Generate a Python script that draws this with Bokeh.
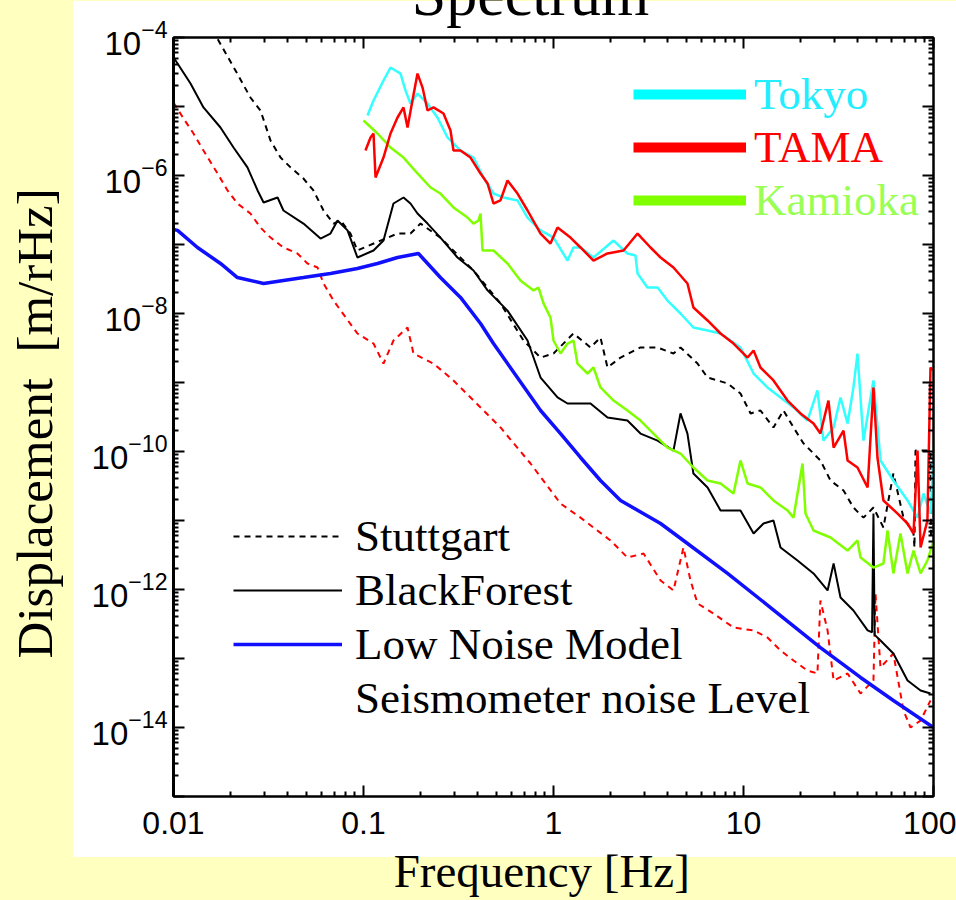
from bokeh.plotting import figure
from bokeh.models import FixedTicker, LogAxis, Legend, LegendItem, Label, LogTickFormatter
from bokeh.embed import file_html
from bokeh.resources import INLINE

# ---------------- data ----------------
x_tick_values = [0.01, 0.1, 1, 10, 100]
x_tick_labels = ["0.01", "0.1", "1", "10", "100"]
y_exponents = list(range(-15, -3))

stuttgart_f = [0.0160, 0.01725, 0.0212, 0.0254, 0.0287, 0.0324, 0.0366, 0.0413, 0.0483, 0.0545,
               0.0616, 0.0695, 0.0757, 0.0854, 0.0929, 0.1229, 0.151, 0.1767, 0.1995, 0.254,
               0.3793, 0.526, 0.695, 0.855, 1.0, 1.274, 1.566, 1.767, 1.924, 2.254,
               2.87, 3.53, 4.28, 4.66, 5.73, 6.47, 8.24, 9.64, 10.9, 12.28,
               14.38, 16.24, 18.33, 20.7, 25.4, 28.7, 33.6, 37.9, 42.8, 48.3,
               54.5, 61.5, 69.5, 78.5, 79.4, 80.4, 96.4, 97.0]
stuttgart_v = [1.3e-4, 9.05e-5, 3.32e-5, 1.35e-5, 8.75e-6, 3.22e-6, 1.82e-6, 1.31e-6, 9.05e-7, 6.07e-7,
               3.11e-7, 2.01e-7, 2.23e-7, 1.44e-7, 8.19e-8, 1.14e-7, 1.44e-7, 1.44e-7, 2.01e-7, 1.26e-7,
               4.20e-8, 1.40e-8, 4.06e-9, 2.30e-9, 2.63e-9, 5.13e-9, 3.22e-9, 4.49e-9, 1.65e-9, 2.30e-9,
               3.22e-9, 3.22e-9, 2.63e-9, 3.22e-9, 1.88e-9, 1.18e-9, 9.7e-10, 6.93e-10, 3.56e-10, 3.93e-10,
               2.23e-10, 3.93e-10, 2.23e-10, 1.31e-10, 7.41e-11, 3.80e-11, 2.72e-11, 1.54e-11, 1.10e-11, 1.54e-11,
               7.92e-12, 4.80e-11, 1.10e-11, 6.48e-12, 4.06e-12, 1.03e-10, 1.03e-10, 5.13e-12]

blackforest_f = [0.01, 0.0105, 0.01229, 0.01438, 0.01767, 0.0207, 0.0245, 0.0277, 0.0298, 0.0353,
                 0.0379, 0.0483, 0.0594, 0.067, 0.073, 0.0824, 0.0929, 0.1129, 0.1274, 0.1438,
                 0.1624, 0.1767, 0.1924, 0.2173, 0.254, 0.3124, 0.3793, 0.4498, 0.5727, 0.730,
                 0.855, 1.05, 1.185, 1.566, 1.924, 2.45, 2.87, 3.53, 4.28, 4.66,
                 5.07, 5.45, 6.47, 7.57, 9.64, 11.3, 12.74, 14.38, 15.66, 19.24,
                 23.36, 27.7, 29.8, 32.4, 37.9, 45.0, 47.5, 48.3, 49.0, 52.6,
                 61.5, 73.0, 85.5, 96.4]
blackforest_v = [5.13e-5, 4.2e-5, 2.16e-5, 9.7e-6, 4.96e-6, 2.55e-6, 1.31e-6, 6.07e-7, 4.06e-7, 4.80e-7,
                 3.11e-7, 2.01e-7, 1.22e-7, 1.44e-7, 2.23e-7, 1.60e-7, 6.48e-8, 8.19e-8, 1.14e-7, 3.93e-7,
                 4.80e-7, 3.93e-7, 2.81e-7, 2.01e-7, 1.26e-7, 6.48e-8, 4.20e-8, 2.16e-8, 1.10e-8, 4.06e-9,
                 1.18e-9, 6.07e-10, 4.96e-10, 4.96e-10, 3.11e-10, 2.81e-10, 1.82e-10, 1.44e-10, 1.03e-10, 3.56e-10,
                 1.82e-10, 4.80e-11, 3.01e-11, 1.40e-11, 1.40e-11, 6.48e-12, 9.05e-12, 1.0e-11, 4.06e-12, 2.63e-12,
                 1.71e-12, 9.7e-13, 2.38e-12, 7.66e-13, 4.96e-13, 2.55e-13, 2.4e-13, 1.26e-11, 2.2e-13, 1.82e-13,
                 1.18e-13, 4.80e-14, 3.44e-14, 3.11e-14]

lownoise_f = [0.01, 0.0105, 0.01337, 0.01767, 0.0217, 0.0298, 0.0379, 0.0483, 0.067, 0.0929,
              0.1185, 0.151, 0.1946, 0.254, 0.324, 0.413, 0.4831, 0.855, 1.089, 1.387,
              1.767, 2.254, 3.66, 4.83, 8.24, 13.87, 25.4, 41.3, 61.5, 100]
lownoise_v = [1.65e-7, 1.60e-7, 9.05e-8, 5.31e-8, 3.32e-8, 2.72e-8, 3.01e-8, 3.32e-8, 3.80e-8, 4.49e-8,
              5.31e-8, 6.48e-8, 7.41e-8, 3.32e-8, 1.71e-8, 7.16e-9, 3.67e-9, 3.93e-10, 1.82e-10, 8.19e-11,
              3.80e-11, 1.95e-11, 9.05e-12, 5.13e-12, 1.71e-12, 5.48e-13, 1.44e-13, 5.31e-14, 2.46e-14, 1.0e-14]

seismometer_f = [0.01, 0.01129, 0.01274, 0.01438, 0.01705, 0.01924, 0.0217, 0.0254, 0.0287, 0.0324,
                 0.0379, 0.0449, 0.0507, 0.0573, 0.0616, 0.0695, 0.0929, 0.1129, 0.1274, 0.1438,
                 0.1705, 0.1833, 0.2336, 0.2976, 0.413, 0.526, 0.757, 1.089, 1.387, 1.995,
                 2.45, 2.98, 3.66, 4.28, 4.83, 5.26, 5.73, 6.95, 8.86, 11.3,
                 13.37, 15.66, 18.33, 21.7, 24.5, 25.4, 27.7, 29.8, 35.3, 41.3,
                 48.3, 49.5, 52.6, 61.5, 69.5, 75.7, 85.5, 96.4]
seismometer_v = [1.14e-5, 6.7e-6, 4.06e-6, 2.30e-6, 1.07e-6, 6.07e-7, 3.93e-7, 2.81e-7, 1.76e-7, 1.26e-7,
                 9.05e-8, 7.41e-8, 5.31e-8, 4.64e-8, 2.72e-8, 1.54e-8, 5.13e-9, 3.67e-9, 1.88e-9, 4.06e-9,
                 6.27e-9, 2.63e-9, 1.88e-9, 1.07e-9, 4.35e-10, 2.23e-10, 6.70e-11, 1.76e-11, 1.10e-11, 5.13e-12,
                 2.91e-12, 3.32e-12, 1.35e-12, 9.7e-13, 4.06e-12, 1.35e-12, 6.27e-13, 4.49e-13, 2.81e-13, 2.55e-13,
                 2.01e-13, 1.31e-13, 9.35e-14, 6.70e-14, 6.07e-14, 6.93e-13, 2.55e-13, 4.80e-14, 6.07e-14, 3.11e-14,
                 4.80e-14, 8.75e-13, 7.41e-14, 1.18e-13, 1.76e-14, 1.0e-14, 1.26e-14, 2.46e-14]

tokyo_f = [0.105, 0.1129, 0.1274, 0.1387, 0.1566, 0.1663, 0.1767, 0.1924, 0.2173, 0.245,
           0.2768, 0.324, 0.3793, 0.4283, 0.4831, 0.5454, 0.6465, 0.730, 0.855, 1.0,
           1.185, 1.274, 1.387, 1.624, 2.07, 2.45, 2.70, 2.77, 3.12, 3.53,
           3.98, 4.66, 5.45, 6.47, 7.57, 9.64, 11.3, 13.37, 15.66, 18.33,
           21.7, 24.5, 26.36, 29.8, 32.4, 35.3, 37.9, 39.8, 42.8, 48.3,
           52.6, 61.5, 73.0, 82.4, 88.6, 96.4, 100]
tokyo_v = [7.41e-6, 1.22e-5, 2.38e-5, 3.67e-5, 3.0e-5, 1.71e-5, 1.10e-5, 1.54e-5, 1.10e-5, 6.93e-6,
           3.56e-6, 2.30e-6, 1.82e-6, 9.35e-7, 5.48e-7, 4.80e-7, 4.35e-7, 2.46e-7, 1.60e-7, 1.26e-7,
           5.86e-8, 9.05e-8, 9.05e-8, 6.48e-8, 1.14e-7, 7.41e-8, 6.93e-8, 3.80e-8, 2.38e-8, 2.38e-8,
           1.54e-8, 1.0e-8, 6.27e-9, 5.67e-9, 5.13e-9, 3.22e-9, 1.35e-9, 8.47e-10, 6.07e-10, 4.35e-10,
           2.81e-10, 7.66e-10, 1.44e-10, 2.23e-10, 6.07e-10, 2.55e-10, 8.47e-10, 2.63e-9, 1.44e-10, 1.07e-9,
           7.41e-11, 3.80e-11, 1.95e-11, 1.10e-11, 2.46e-11, 1.26e-11, 7.41e-11]

tama_f = [0.1024, 0.1089, 0.1129, 0.1157, 0.1274, 0.1387, 0.151, 0.1624, 0.1705, 0.181,
          0.1924, 0.2045, 0.2173, 0.2336, 0.2636, 0.287, 0.2976, 0.324, 0.3656, 0.413,
          0.4498, 0.4831, 0.526, 0.5727, 0.6465, 0.730, 0.855, 0.964, 1.05, 1.228,
          1.387, 1.624, 1.924, 2.336, 2.77, 3.24, 3.66, 4.28, 5.07, 5.45,
          6.47, 7.57, 8.86, 10.5, 11.3, 12.28, 14.38, 17.05, 19.95, 23.36,
          25.4, 28.0, 29.8, 33.6, 35.3, 39.8, 45.0, 48.3, 50.7, 54.5,
          64.7, 73.0, 78.5, 82.4, 85.5, 92.9, 96.4, 99.0]
tama_v = [2.30e-6, 3.56e-6, 4.06e-6, 9.35e-7, 1.82e-6, 4.06e-6, 6.93e-6, 9.7e-6, 4.96e-6, 1.22e-5,
          3.0e-5, 1.88e-5, 8.75e-6, 9.7e-6, 7.92e-6, 4.49e-6, 2.30e-6, 2.30e-6, 1.82e-6, 1.07e-6,
          7.66e-7, 3.93e-7, 4.35e-7, 8.47e-7, 5.48e-7, 3.11e-7, 1.44e-7, 1.03e-7, 1.76e-7, 1.26e-7,
          9.05e-8, 5.86e-8, 7.41e-8, 8.19e-8, 1.44e-7, 9.05e-8, 6.48e-8, 4.64e-8, 2.72e-8, 1.22e-8,
          7.92e-9, 5.13e-9, 3.67e-9, 2.30e-9, 2.91e-9, 1.65e-9, 1.07e-9, 5.48e-10, 3.56e-10, 2.55e-10,
          1.82e-10, 5.48e-10, 1.14e-10, 2.01e-10, 7.41e-11, 5.86e-11, 3.01e-11, 8.47e-10, 8.19e-11, 1.95e-11,
          1.26e-11, 9.05e-12, 6.48e-12, 1.03e-10, 4.06e-12, 1.0e-11, 1.65e-9, 1.5e-9]

kamioka_f = [0.1, 0.1185, 0.1387, 0.1624, 0.1924, 0.2254, 0.254, 0.2976, 0.3527, 0.3793,
             0.4027, 0.413, 0.4229, 0.4831, 0.5727, 0.670, 0.785, 0.834, 0.886, 0.964,
             1.0, 1.089, 1.185, 1.274, 1.337, 1.510, 1.624, 1.767, 2.07, 2.45,
             2.87, 3.36, 3.98, 4.66, 5.45, 6.47, 7.57, 8.86, 9.64, 10.5,
             12.28, 14.38, 17.05, 18.33, 19.24, 20.45, 21.2, 23.36, 28.7, 35.3,
             39.8, 41.3, 48.3, 54.5, 57.3, 61.5, 67.0, 73.0, 78.5, 85.5,
             92.9, 100]
kamioka_v = [6.27e-6, 4.06e-6, 2.55e-6, 1.82e-6, 1.07e-6, 6.70e-7, 5.48e-7, 3.44e-7, 2.46e-7, 2.01e-7,
             2.23e-7, 2.81e-7, 8.19e-8, 8.19e-8, 5.31e-8, 3.01e-8, 2.16e-8, 2.38e-8, 1.40e-8, 8.75e-9,
             4.06e-9, 2.63e-9, 3.67e-9, 4.06e-9, 1.88e-9, 1.35e-9, 1.65e-9, 8.47e-10, 5.48e-10, 3.93e-10,
             2.81e-10, 1.82e-10, 1.14e-10, 9.35e-11, 5.86e-11, 3.80e-11, 3.44e-11, 2.46e-11, 7.41e-11, 3.44e-11,
             3.01e-11, 1.95e-11, 1.40e-11, 1.10e-11, 2.46e-11, 6.70e-11, 1.26e-11, 7.16e-12, 5.67e-12, 3.67e-12,
             5.13e-12, 2.91e-12, 2.08e-12, 2.38e-12, 7.16e-12, 1.71e-12, 6.48e-12, 1.71e-12, 3.67e-12, 1.71e-12,
             2.63e-12, 5.13e-12]

for a, b in [(stuttgart_f, stuttgart_v), (blackforest_f, blackforest_v), (lownoise_f, lownoise_v),
             (seismometer_f, seismometer_v), (tokyo_f, tokyo_v), (tama_f, tama_v), (kamioka_f, kamioka_v)]:
    assert len(a) == len(b), (len(a), len(b))

# ---------------- figure ----------------
# The canvas is SHIFT px taller at the top and moved up by SHIFT px, so that the
# title sits partly above the page edge, as in the reference.
FRAME_L, FRAME_T, FRAME_R, FRAME_B = 173, 37, 933, 796
W, H = 956, 900
SHIFT = 80

p = figure(width=W, height=H + SHIFT, x_axis_type="log", y_axis_type="log",
           x_range=(0.01, 100), y_range=(1e-15, 1e-4),
           output_backend="svg", toolbar_location=None,
           min_border_left=FRAME_L, min_border_right=W - FRAME_R,
           min_border_top=FRAME_T + SHIFT, min_border_bottom=H - FRAME_B)
p.border_fill_color = None
p.background_fill_color = "white"
p.outline_line_color = "black"
p.outline_line_width = 2
p.styles = {
    "transform": f"translateY(-{SHIFT}px)",
    "background": f"linear-gradient(#ffffff, #ffffff) 73px {SHIFT + 1}px / 883px 856px no-repeat, #ffffc0",
}
p.xgrid.visible = False
p.ygrid.visible = False

x_minor = [m * 10.0 ** e for e in range(-2, 2) for m in range(2, 10)]
y_tick_values = [10.0 ** e for e in y_exponents]
y_minor = [m * 10.0 ** e for e in range(-15, -4) for m in range(2, 10)]
xt = FixedTicker(ticks=x_tick_values, minor_ticks=x_minor)
yt = FixedTicker(ticks=y_tick_values, minor_ticks=y_minor)


def style_axis(ax, width=2):
    ax.axis_line_color = "black"
    ax.axis_line_width = width
    ax.major_tick_in = 11
    ax.major_tick_out = 0
    ax.minor_tick_in = 5
    ax.minor_tick_out = 0
    ax.major_tick_line_width = 2
    ax.minor_tick_line_width = 2
    ax.major_tick_line_color = "black"
    ax.minor_tick_line_color = "black"


xa = p.xaxis[0]
xa.ticker = xt
style_axis(xa)
xa.major_label_overrides = dict(zip(x_tick_values, x_tick_labels))
xa.major_label_text_font = "Liberation Sans"
xa.major_label_text_font_size = "32px"
xa.major_label_text_color = "black"
xa.major_label_standoff = 15
xa.axis_label = "Frequency [Hz]\u00a0\u00a0"
xa.axis_label_text_font = "Liberation Serif"
xa.axis_label_text_font_style = "normal"
xa.axis_label_text_font_size = "47px"
xa.axis_label_text_color = "black"
xa.axis_label_standoff = 8

ya = p.yaxis[0]
ya.ticker = yt
style_axis(ya, 3)
ya.formatter = LogTickFormatter()
ya.major_label_overrides = {10.0 ** e: "" for e in y_exponents if e % 2 != 0}
ya.major_label_text_font = "Liberation Sans"
ya.major_label_text_font_size = "33px"
ya.major_label_text_color = "black"
ya.major_label_standoff = 6
ya.axis_label = "Displacement\u00a0\u00a0[m/rHz]\u00a0"
ya.axis_label_text_font = "Liberation Serif"
ya.axis_label_text_font_style = "normal"
ya.axis_label_text_font_size = "51px"
ya.axis_label_text_color = "black"
ya.axis_label_standoff = 26

top = LogAxis(ticker=xt, major_label_text_font_size="8px", major_label_standoff=0,
              major_label_overrides={v: "" for v in x_tick_values})
style_axis(top)
p.add_layout(top, "above")
right = LogAxis(ticker=yt, major_label_text_font_size="8px", major_label_standoff=0,
                major_label_overrides={v: "" for v in y_tick_values})
style_axis(right)
p.add_layout(right, "right")

# ---------------- series ----------------
r_seis = p.line(seismometer_f, seismometer_v, line_color="#ff0000", line_width=2, line_dash="6 5")
r_lnm = p.line(lownoise_f, lownoise_v, line_color="#1010ff", line_width=3.5)
r_stutt = p.line(stuttgart_f, stuttgart_v, line_color="black", line_width=2, line_dash="6 5")
r_black = p.line(blackforest_f, blackforest_v, line_color="black", line_width=2)
r_kam = p.line(kamioka_f, kamioka_v, line_color="#80ff00", line_width=2.5)
r_tok = p.line(tokyo_f, tokyo_v, line_color="#33ffff", line_width=2.5)
r_tama = p.line(tama_f, tama_v, line_color="#ff0000", line_width=2.5)

# legend keys (sample glyphs only; a single NaN point draws nothing in the plot)
nan = float("nan")
k_none = p.line([nan], [nan], line_alpha=0)
k_tok = p.line([nan], [nan], line_color="#00ffff", line_width=10)
k_tama = p.line([nan], [nan], line_color="#ff0000", line_width=10)
k_kam = p.line([nan], [nan], line_color="#80ff00", line_width=10)

common = dict(padding=0, margin=0, background_fill_alpha=0, border_line_alpha=0,
              label_text_font="Liberation Serif", label_text_font_size="45px")

leg_bl = Legend(items=[LegendItem(label="Stuttgart", renderers=[r_stutt]),
                       LegendItem(label="BlackForest", renderers=[r_black]),
                       LegendItem(label="Low Noise Model", renderers=[r_lnm]),
                       LegendItem(label="Seismometer noise Level", renderers=[k_none])],
                location=(60, 72), glyph_width=109, glyph_height=20, label_standoff=13,
                spacing=2, label_text_color="black", **common)
p.add_layout(leg_bl)

for name, rend, col, cy in [("Tokyo", k_tok, "#22eeff", 95), ("TAMA", k_tama, "#ff0000", 148),
                            ("Kamioka", k_kam, "#99ff55", 201)]:
    lg = Legend(items=[LegendItem(label=name, renderers=[rend])],
                location=(633 - FRAME_L, FRAME_B - cy - 25), glyph_width=113, glyph_height=20,
                label_standoff=8, label_text_color=col, **common)
    p.add_layout(lg)

title = Label(x=530 - FRAME_L, y=44, x_units="screen", y_units="screen", text="Spectrum",
              text_align="center", text_baseline="alphabetic", text_font="Liberation Serif",
              text_font_size="62px", text_color="black")
p.add_layout(title, "above")

open("out.html", "w").write(file_html(p, INLINE))
